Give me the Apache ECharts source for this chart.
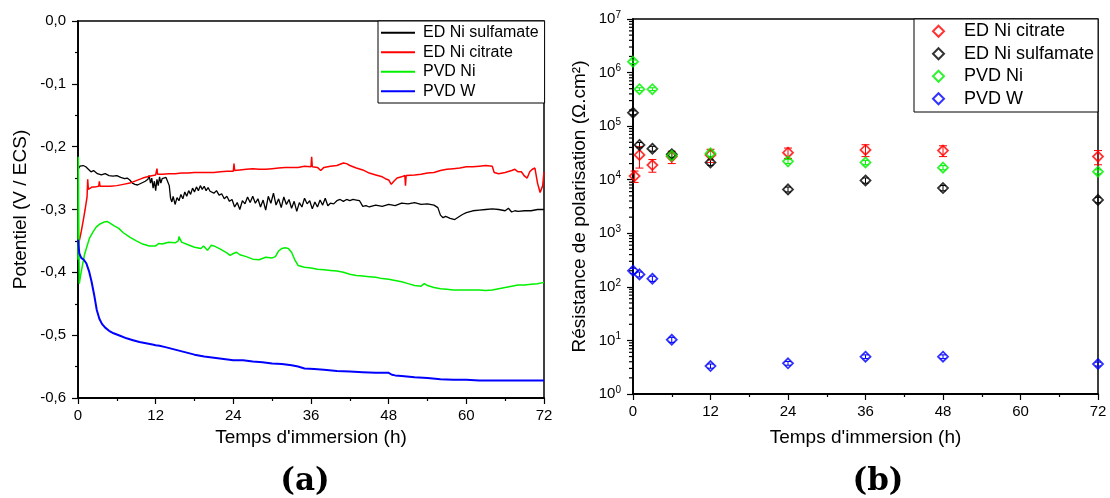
<!DOCTYPE html>
<html>
<head>
<meta charset="utf-8">
<script src="https://cdn.jsdelivr.net/npm/echarts@6/dist/echarts.min.js"></script>
<style>
html,body{margin:0;padding:0;background:#fff;}
#c{width:1110px;height:498px;}
</style>
</head>
<body>
<div id="c"></div>
<script>
// ---------- Panel (a): open-circuit potential vs time ----------
const xTicksHours = [0, 12, 24, 36, 48, 60, 72];
const namesA = ['ED Ni sulfamate', 'ED Ni citrate', 'PVD Ni', 'PVD W'];

const sulfTime = [0,0.3,0.8,1.2,1.6,2.0,2.4,3.0,3.6,4.2,4.8,5.4,6.0,6.6,7.2,7.6,8.0,8.4,8.8,9.2,9.6,10.0,10.4,10.8,11.0,11.2,11.4,11.6,11.8,12.0,12.2,12.4,12.6,12.8,13.0,13.3,13.6,13.9,14.1,14.3,14.5,14.7,15.0,15.3,15.6,15.9,16.2,16.5,16.8,17.1,17.4,17.7,18.0,18.3,18.6,18.9,19.2,19.5,19.8,20.1,20.4,20.7,21.0,21.4,21.8,22.2,22.6,23.0,23.4,23.8,24.2,24.6,25.0,25.4,25.8,26.2,26.6,27.0,27.4,27.8,28.2,28.6,29.0,29.4,29.8,30.2,30.6,31.0,31.4,31.8,32.2,32.6,33.0,33.4,33.8,34.2,34.6,35.0,35.4,35.8,36.2,36.6,37.0,37.4,37.8,38.2,38.6,39.0,39.5,40.0,40.5,41.0,41.5,42.0,42.5,43.0,43.5,43.8,44.0,44.5,45.0,46.0,47.0,48.0,49.0,50.0,51.0,52.0,53.0,54.0,55.0,55.6,56.0,56.4,56.8,57.5,58.2,58.8,59.4,60.0,61.0,62.0,63.0,64.0,65.0,66.0,66.5,67.0,67.5,68.0,69.0,70.0,71.0,72.0];
const sulfPot = [-0.236,-0.231,-0.230,-0.232,-0.236,-0.240,-0.238,-0.243,-0.245,-0.243,-0.246,-0.247,-0.246,-0.249,-0.251,-0.250,-0.253,-0.258,-0.260,-0.261,-0.259,-0.257,-0.255,-0.252,-0.246,-0.258,-0.250,-0.266,-0.255,-0.270,-0.252,-0.262,-0.248,-0.258,-0.251,-0.254,-0.249,-0.248,-0.262,-0.282,-0.288,-0.279,-0.292,-0.281,-0.286,-0.276,-0.283,-0.272,-0.279,-0.270,-0.276,-0.266,-0.272,-0.264,-0.270,-0.262,-0.268,-0.263,-0.270,-0.265,-0.271,-0.268,-0.274,-0.270,-0.277,-0.275,-0.283,-0.279,-0.287,-0.284,-0.296,-0.289,-0.300,-0.286,-0.291,-0.280,-0.289,-0.279,-0.290,-0.283,-0.296,-0.285,-0.301,-0.279,-0.290,-0.274,-0.293,-0.283,-0.297,-0.280,-0.292,-0.284,-0.298,-0.287,-0.303,-0.289,-0.296,-0.282,-0.291,-0.286,-0.299,-0.288,-0.296,-0.285,-0.293,-0.282,-0.294,-0.290,-0.291,-0.286,-0.284,-0.287,-0.284,-0.286,-0.284,-0.285,-0.286,-0.287,-0.295,-0.294,-0.296,-0.293,-0.295,-0.292,-0.294,-0.290,-0.291,-0.289,-0.292,-0.291,-0.293,-0.297,-0.309,-0.313,-0.311,-0.314,-0.316,-0.312,-0.308,-0.305,-0.302,-0.301,-0.300,-0.299,-0.300,-0.302,-0.298,-0.304,-0.302,-0.303,-0.302,-0.302,-0.300,-0.300];

const citrTime = [0,0.2,0.5,0.8,1.1,1.4,1.5,1.6,1.8,2.2,2.7,3.2,3.3,3.4,4,5,6,7,8,9,10,11,12,12.2,12.3,13,14,15,16,17,18,19,20,21,22,23,24,24.1,24.2,25,26,27,28,29,30,31,32,33,34,35,36,36.1,36.2,37,37.5,38,39,40,41,41.5,42,43,44,45,46,47,47.5,48,48.4,48.8,49.3,50,50.5,50.6,50.7,51,52,53,54,55,56,57,58,59,60,61,62,63,64,64.3,64.6,65,66,67,67.5,68,68.5,69,69.4,69.8,70.2,70.6,71,71.4,71.8,72];
const citrPot = [-0.360,-0.350,-0.335,-0.318,-0.300,-0.280,-0.252,-0.268,-0.266,-0.264,-0.264,-0.263,-0.255,-0.263,-0.263,-0.263,-0.262,-0.260,-0.258,-0.254,-0.250,-0.247,-0.245,-0.235,-0.244,-0.244,-0.243,-0.243,-0.242,-0.242,-0.241,-0.241,-0.241,-0.241,-0.240,-0.239,-0.239,-0.227,-0.238,-0.237,-0.236,-0.235,-0.236,-0.236,-0.235,-0.234,-0.233,-0.233,-0.233,-0.231,-0.232,-0.216,-0.232,-0.233,-0.238,-0.233,-0.231,-0.230,-0.226,-0.227,-0.230,-0.234,-0.237,-0.242,-0.245,-0.248,-0.251,-0.253,-0.260,-0.255,-0.250,-0.248,-0.246,-0.262,-0.246,-0.246,-0.245,-0.244,-0.242,-0.241,-0.238,-0.236,-0.235,-0.234,-0.232,-0.232,-0.231,-0.230,-0.231,-0.241,-0.243,-0.243,-0.241,-0.238,-0.236,-0.240,-0.240,-0.247,-0.250,-0.240,-0.236,-0.234,-0.258,-0.273,-0.262,-0.240];

const pvdNiTime = [0,0.05,0.1,0.2,0.4,0.7,1.0,1.4,1.8,2.3,2.8,3.4,4.0,4.5,5.0,5.6,6.3,7.0,8.0,9.0,10.0,11.0,12.0,12.5,13,14,15,15.5,15.6,16,17,18,19,19.3,19.4,20,20.6,21,22,23,23.5,24,24.5,25,26,27,28,29,30,30.5,31,31.5,32,32.5,33,33.5,34,35,36,37,38,39,40,41,42,43,44,45,46,47,48,49,50,51,52,53,53.5,54,55,56,57,58,59,60,61,62,63,64,65,66,67,68,69,70,71,72];
const pvdNiPot = [-0.380,-0.216,-0.300,-0.418,-0.405,-0.388,-0.372,-0.358,-0.345,-0.336,-0.328,-0.323,-0.320,-0.319,-0.322,-0.326,-0.330,-0.337,-0.344,-0.350,-0.355,-0.358,-0.358,-0.354,-0.355,-0.352,-0.353,-0.350,-0.343,-0.352,-0.356,-0.360,-0.362,-0.364,-0.358,-0.365,-0.357,-0.358,-0.363,-0.369,-0.373,-0.370,-0.368,-0.372,-0.375,-0.379,-0.380,-0.376,-0.377,-0.375,-0.366,-0.362,-0.361,-0.362,-0.368,-0.380,-0.389,-0.392,-0.393,-0.395,-0.396,-0.397,-0.398,-0.400,-0.403,-0.405,-0.406,-0.407,-0.408,-0.410,-0.411,-0.413,-0.415,-0.418,-0.421,-0.422,-0.418,-0.421,-0.424,-0.426,-0.427,-0.428,-0.428,-0.428,-0.428,-0.428,-0.429,-0.428,-0.426,-0.424,-0.422,-0.420,-0.420,-0.419,-0.418,-0.416];

const pvdWTime = [0,0.2,0.5,0.9,1.3,1.7,2.1,2.5,2.9,3.3,3.7,4.2,4.8,5.5,6.5,7.5,8.5,9.5,10.5,11.5,12.0,12.3,12.6,13.5,15,16.5,18,19.5,21,22.5,24,25.5,27,28.5,30,31.5,33,34,35,36.5,38,40,42,44,46,48,48.5,49,50,52,54,56,58,60,62,64,66,68,70,72];
const pvdWPot = [-0.348,-0.370,-0.377,-0.380,-0.386,-0.398,-0.415,-0.436,-0.460,-0.474,-0.482,-0.488,-0.493,-0.497,-0.501,-0.505,-0.508,-0.511,-0.513,-0.515,-0.516,-0.514,-0.517,-0.519,-0.523,-0.527,-0.531,-0.534,-0.536,-0.538,-0.540,-0.540,-0.542,-0.543,-0.545,-0.546,-0.548,-0.550,-0.553,-0.554,-0.555,-0.557,-0.558,-0.559,-0.560,-0.560,-0.563,-0.564,-0.565,-0.567,-0.568,-0.570,-0.571,-0.571,-0.572,-0.572,-0.572,-0.572,-0.572,-0.572];

// ---------- Panel (b): polarisation resistance (log) ----------
const namesB = ['ED Ni citrate', 'ED Ni sulfamate', 'PVD Ni', 'PVD W'];
const rpCitrTime = [0.25, 1, 3, 6, 12, 24, 36, 48, 72];
const rpCitr = [1.17e4, 2.9e4, 1.88e4, 2.7e4, 2.9e4, 3.2e4, 3.6e4, 3.5e4, 2.7e4];
const rpCitrErr = [2.8e3, 1.25e4, 5e3, 7e3, 8e3, 7e3, 9e3, 8e3, 8e3];
const rpTime = [0, 1, 3, 6, 12, 24, 36, 48, 72];
const rpSulf = [1.78e5, 4.45e4, 3.8e4, 3.0e4, 2.1e4, 6.6e3, 9.7e3, 7.0e3, 4.2e3];
const rpSulfErr = [1.5e4, 5e3, 4e3, 4e3, 2.5e3, 7e2, 1.1e3, 8e2, 5e2];
const rpPvdNi = [1.6e6, 4.9e5, 4.9e5, 2.8e4, 3.1e4, 2.2e4, 2.1e4, 1.68e4, 1.41e4];
const rpPvdNiErr = [1.2e5, 3e4, 3e4, 4e3, 4e3, 2e3, 2e3, 1.5e3, 1.2e3];
const rpPvdW = [200, 171, 142, 10.3, 3.33, 3.74, 4.98, 4.98, 3.63];
const rpPvdWErr = [22, 18, 16, 1.1, 0.3, 0.3, 0.4, 0.4, 0.3];

const colors = {black:'#000000', red:'#ff0000', green:'#00f000', blue:'#0000ff'};
const ZW = '\u200b';
const FONT = 'Liberation Sans';

const pair = (t, v) => t.map((x, i) => [x, v[i]]);

const minorLog = [];
for (let e = 0; e < 7; e++) for (let k = 2; k <= 9; k++) minorLog.push([0, k * Math.pow(10, e)]);

const chart = echarts.init(document.getElementById('c'), null, {renderer: 'canvas'});

const axisCommon = {
  axisLine: {onZero: false, lineStyle: {color: '#000', width: 1.8}},
  axisTick: {inside: false, length: 6, lineStyle: {color: '#000', width: 1.2}},
  minorTick: {show: true, splitNumber: 2, length: 3, lineStyle: {color: '#000', width: 1.2}},
  splitLine: {show: false},
  minorSplitLine: {show: false},
  axisLabel: {color: '#000', fontSize: 15, fontFamily: FONT}
};

function lineSeries(name, t, v, color, w) {
  return {name, type: 'line', xAxisIndex: 0, yAxisIndex: 0, data: pair(t, v), showSymbol: false, symbol: 'none',
    lineStyle: {color, width: w}, itemStyle: {color}, animation: false, clip: true};
}
function scatterSeries(name, t, v, color) {
  return {name: name + ZW, type: 'scatter', xAxisIndex: 1, yAxisIndex: 1, data: pair(t, v), symbol: 'diamond', symbolSize: [10, 10],
    itemStyle: {color: 'rgba(255,255,255,0)', borderColor: color, borderWidth: 1.8}, animation: false, z: 3};
}
function errSeries(t, v, err, color, cap) {
  return {
    type: 'custom', xAxisIndex: 1, yAxisIndex: 1, silent: true, z: 2,
    data: t.map((x, i) => [x, v[i], v[i] - err[i], v[i] + err[i]]),
    renderItem: (params, api) => {
      const lo = api.coord([api.value(0), api.value(2)]);
      const hi = api.coord([api.value(0), api.value(3)]);
      const st = {stroke: color, lineWidth: 1};
      return {type: 'group', children: [
        {type: 'line', shape: {x1: lo[0], y1: lo[1], x2: hi[0], y2: hi[1]}, style: st},
        {type: 'line', shape: {x1: lo[0] - cap, y1: lo[1], x2: lo[0] + cap, y2: lo[1]}, style: st},
        {type: 'line', shape: {x1: hi[0] - cap, y1: hi[1], x2: hi[0] + cap, y2: hi[1]}, style: st}
      ]};
    }
  };
}

const option = {
  animation: false,
  backgroundColor: '#fff',
  textStyle: {fontFamily: FONT, color: '#000'},
  grid: [
    {left: 78, top: 21, width: 466, height: 377, show: true, borderColor: '#000', borderWidth: 1.5, backgroundColor: 'transparent'},
    {left: 633, top: 19, width: 465, height: 375, show: true, borderColor: '#000', borderWidth: 1.5, backgroundColor: 'transparent'}
  ],
  xAxis: [
    Object.assign({}, axisCommon, {type: 'value', gridIndex: 0, min: 0, max: 72, interval: 12,
      name: "Temps d'immersion (h)", nameLocation: 'middle', nameGap: 30,
      nameTextStyle: {fontSize: 19, color: '#000', fontFamily: FONT},
      axisLabel: {color: '#000', fontSize: 15, fontFamily: FONT, margin: 10}}),
    Object.assign({}, axisCommon, {type: 'value', gridIndex: 1, min: 0, max: 72, interval: 12,
      name: "Temps d'immersion (h)", nameLocation: 'middle', nameGap: 34,
      nameTextStyle: {fontSize: 19, color: '#000', fontFamily: FONT},
      axisLabel: {color: '#000', fontSize: 15, fontFamily: FONT, margin: 10}})
  ],
  yAxis: [
    Object.assign({}, axisCommon, {type: 'value', gridIndex: 0, min: -0.6, max: 0, interval: 0.1,
      name: 'Potentiel (V / ECS)', nameLocation: 'middle', nameGap: 48,
      nameTextStyle: {fontSize: 19, color: '#000', fontFamily: FONT},
      axisLabel: {color: '#000', fontSize: 15, fontFamily: FONT, margin: 12,
        formatter: v => (Math.abs(v) < 1e-9 ? '0,0' : v.toFixed(1).replace('.', ','))}}),
    Object.assign({}, axisCommon, {type: 'log', logBase: 10, gridIndex: 1, min: 1, max: 1e7, splitNumber: 7,
      name: 'Résistance de polarisation (Ω.cm²)', nameLocation: 'middle', nameGap: 44,
      nameTextStyle: {fontSize: 19, color: '#000', fontFamily: FONT},
      minorTick: {show: false},
      axisLabel: {color: '#000', margin: 12, fontFamily: FONT,
        formatter: v => '{b|10}{s|' + Math.round(Math.log10(v)) + '}',
        rich: {b: {fontSize: 15, fontFamily: FONT, color: '#000'}, s: {fontSize: 10, fontFamily: FONT, color: '#000', padding: [0, 0, 8, 0]}}}})
  ],
  legend: [
    {orient: 'vertical', left: 378, top: 21, padding: [2, 6, 2, 3], itemGap: 0, itemWidth: 34, itemHeight: 2,
      icon: 'rect', borderColor: '#000', borderWidth: 1, backgroundColor: '#fff', selectedMode: false,
      textStyle: {fontSize: 16, lineHeight: 19.5, color: '#000', fontFamily: FONT, padding: [0, 0, 0, 3]},
      data: namesA},
    {orient: 'vertical', left: 914, top: 19, padding: [1, 4, 2, 18], itemGap: 0, itemWidth: 11, itemHeight: 11,
      icon: 'diamond', borderColor: '#000', borderWidth: 1, backgroundColor: '#fff', selectedMode: false,
      textStyle: {fontSize: 18, lineHeight: 22.5, color: '#000', fontFamily: FONT, padding: [0, 0, 0, 15]},
      formatter: n => n.replace(ZW, ''),
      data: namesB.map(n => n + ZW)}
  ],
  graphic: [
    {type: 'text', x: 305, y: 482, style: {text: '(a)', align: 'center', verticalAlign: 'middle', textAlign: 'center', textVerticalAlign: 'middle', font: 'bold 31px "DejaVu Serif"', fill: '#000'}},
    {type: 'text', x: 878, y: 482, style: {text: '(b)', align: 'center', verticalAlign: 'middle', textAlign: 'center', textVerticalAlign: 'middle', font: 'bold 31px "DejaVu Serif"', fill: '#000'}}
  ],
  series: [
    lineSeries('ED Ni sulfamate', sulfTime, sulfPot, colors.black, 1.3),
    lineSeries('ED Ni citrate', citrTime, citrPot, colors.red, 1.5),
    lineSeries('PVD Ni', pvdNiTime, pvdNiPot, colors.green, 1.5),
    lineSeries('PVD W', pvdWTime, pvdWPot, colors.blue, 2),
    errSeries(rpCitrTime, rpCitr, rpCitrErr, colors.red, 4),
    errSeries(rpTime, rpSulf, rpSulfErr, colors.black, 3),
    errSeries(rpTime, rpPvdNi, rpPvdNiErr, colors.green, 3),
    errSeries(rpTime, rpPvdW, rpPvdWErr, colors.blue, 3),
    scatterSeries('ED Ni citrate', rpCitrTime, rpCitr, colors.red),
    scatterSeries('ED Ni sulfamate', rpTime, rpSulf, colors.black),
    scatterSeries('PVD Ni', rpTime, rpPvdNi, colors.green),
    scatterSeries('PVD W', rpTime, rpPvdW, colors.blue),
    {
      type: 'custom', xAxisIndex: 1, yAxisIndex: 1, silent: true, clip: false,
      data: minorLog,
      renderItem: (params, api) => {
        const p = api.coord([api.value(0), api.value(1)]);
        return {type: 'line', shape: {x1: p[0] - 4, y1: p[1], x2: p[0], y2: p[1]}, style: {stroke: '#000', lineWidth: 1.2}};
      }
    }
  ]
};
chart.setOption(option);
</script>
</body>
</html>
